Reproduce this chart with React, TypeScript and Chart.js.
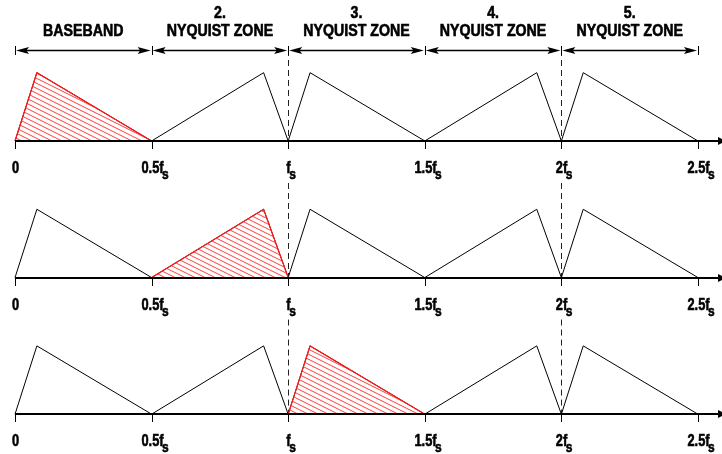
import React, { useEffect, useRef } from 'react';
import { Chart, registerables } from 'chart.js';

Chart.register(...registerables);

// ---- data ----
const zoneEdges = [0, 0.5, 1, 1.5, 2, 2.5];
const peakFreqs = [0.08, 0.91, 1.08, 1.91, 2.08];
const peakAmps = [1, 1, 1, 1, 1];
const highlightedImage = [0, 1, 2];
const tickMain = ['0', '0.5f', 'f', '1.5f', '2f', '2.5f'];
const tickSub = ['', 's', 's', 's', 's', 's'];
const zoneNumbers = ['', '2.', '3.', '4.', '5.'];
const zoneNames = ['BASEBAND', 'NYQUIST ZONE', 'NYQUIST ZONE', 'NYQUIST ZONE', 'NYQUIST ZONE'];
const aliasLines = [1, 2];

// ---- layout ----
const W = 722;
const H = 454;
const X_MIN = -0.055;
const X_MAX = 2.588;
const Y_MAX = 2.064;
const Y_MIN = -4.583;
const ROW_STEP = 2;
const FONT = '"Liberation Sans", Arial, sans-serif';
const RED = '#ff1a1a';
const TICK_SCALE = 0.8;
const HEAD_SCALE = 0.86;

function rowOffset(r: number) {
  return -ROW_STEP * r;
}

function makePattern(): CanvasPattern | string {
  const c = document.createElement('canvas');
  c.width = 10;
  c.height = 5;
  const g = c.getContext('2d');
  if (!g) return 'rgba(255,0,0,0.3)';
  g.strokeStyle = 'rgba(255,40,40,0.9)';
  g.lineWidth = 1;
  for (let k = -2; k <= 2; k++) {
    g.beginPath();
    g.moveTo(-10, k * 5 - 5);
    g.lineTo(20, k * 5 + 10);
    g.stroke();
  }
  const p = g.createPattern(c, 'repeat');
  return p || 'rgba(255,0,0,0.3)';
}

function drawArrowHead(ctx: CanvasRenderingContext2D, x: number, y: number, dir: number, len: number, half: number) {
  ctx.beginPath();
  ctx.moveTo(x, y);
  ctx.lineTo(x + dir * len, y - half);
  ctx.lineTo(x + dir * len * 0.8, y);
  ctx.lineTo(x + dir * len, y + half);
  ctx.closePath();
  ctx.fill();
}

function scaledText(ctx: CanvasRenderingContext2D, text: string, x: number, y: number, sx: number) {
  ctx.save();
  ctx.translate(x, y);
  ctx.scale(sx, 1);
  ctx.lineWidth = 0.6;
  ctx.lineJoin = 'round';
  ctx.strokeText(text, 0, 0);
  ctx.fillText(text, 0, 0);
  ctx.restore();
}

const diagramPlugin = {
  id: 'diagram',
  beforeDatasetsDraw(chart: any) {
    const ctx: CanvasRenderingContext2D = chart.ctx;
    const xs = chart.scales.x;
    const ys = chart.scales.y;
    ctx.save();
    ctx.strokeStyle = '#222';
    ctx.lineWidth = 1;
    ctx.setLineDash([6, 4]);
    highlightedImage.forEach((_, r) => {
      const base = ys.getPixelForValue(rowOffset(r));
      const top = r === 0 ? base - 91 : ys.getPixelForValue(rowOffset(r - 1)) + 42;
      aliasLines.forEach((f) => {
        const px = Math.round(xs.getPixelForValue(f)) + 0.5;
        ctx.beginPath();
        ctx.moveTo(px, top);
        ctx.lineTo(px, base);
        ctx.stroke();
      });
    });
    ctx.restore();
  },
  afterDatasetsDraw(chart: any) {
    const ctx: CanvasRenderingContext2D = chart.ctx;
    const xs = chart.scales.x;
    const ys = chart.scales.y;
    const right = chart.chartArea.right;
    ctx.save();
    ctx.fillStyle = '#000';
    ctx.strokeStyle = '#000';
    ctx.textBaseline = 'alphabetic';
    highlightedImage.forEach((_, r) => {
      const base = Math.round(ys.getPixelForValue(rowOffset(r)));
      const x0 = xs.getPixelForValue(zoneEdges[0]);
      // axis
      ctx.lineWidth = 2;
      ctx.beginPath();
      ctx.moveTo(x0, base);
      ctx.lineTo(right - 4, base);
      ctx.stroke();
      ctx.beginPath();
      ctx.moveTo(right + 4, base);
      ctx.lineTo(right - 4, base - 4);
      ctx.lineTo(right - 4, base + 4);
      ctx.closePath();
      ctx.fill();
      // ticks and labels
      zoneEdges.forEach((e, i) => {
        const px = Math.round(xs.getPixelForValue(e)) + 0.5;
        ctx.lineWidth = 1;
        ctx.beginPath();
        ctx.moveTo(px, base);
        ctx.lineTo(px, base + 8);
        ctx.stroke();
        ctx.font = 'bold 16px ' + FONT;
        ctx.textAlign = 'left';
        const main = tickMain[i];
        const mw = ctx.measureText(main).width * TICK_SCALE;
        scaledText(ctx, main, px - mw / 2, base + 32, TICK_SCALE);
        if (tickSub[i]) {
          ctx.font = 'bold 15px ' + FONT;
          scaledText(ctx, tickSub[i], px + mw / 2 - 1.5, base + 38, TICK_SCALE);
        }
      });
    });
    // header
    const base0 = ys.getPixelForValue(rowOffset(0));
    const ay = Math.round(base0 - 91) + 0.5;
    for (let i = 0; i < zoneEdges.length - 1; i++) {
      const a = xs.getPixelForValue(zoneEdges[i]);
      const b = xs.getPixelForValue(zoneEdges[i + 1]);
      ctx.lineWidth = 1.5;
      ctx.beginPath();
      ctx.moveTo(a + 8, ay);
      ctx.lineTo(b - 8, ay);
      ctx.stroke();
      drawArrowHead(ctx, a + 1, ay, 1, 13, 3.6);
      drawArrowHead(ctx, b - 1, ay, -1, 13, 3.6);
      ctx.font = 'bold 16.5px ' + FONT;
      ctx.textAlign = 'left';
      const cx = (a + b) / 2;
      const nw = ctx.measureText(zoneNames[i]).width * HEAD_SCALE;
      scaledText(ctx, zoneNames[i], cx - nw / 2, base0 - 104.5, HEAD_SCALE);
      if (zoneNumbers[i]) {
        const ww = ctx.measureText(zoneNumbers[i]).width * HEAD_SCALE;
        scaledText(ctx, zoneNumbers[i], cx - ww / 2, base0 - 122.5, HEAD_SCALE);
      }
    }
    ctx.lineWidth = 1;
    zoneEdges.forEach((e) => {
      const px = Math.round(xs.getPixelForValue(e)) + 0.5;
      ctx.beginPath();
      ctx.moveTo(px, ay - 4.5);
      ctx.lineTo(px, ay + 4.5);
      ctx.stroke();
    });
    ctx.restore();
  },
};

export default function App() {
  const ref = useRef<HTMLCanvasElement | null>(null);
  useEffect(() => {
    document.body.style.margin = '0';
    const canvas = ref.current;
    if (!canvas) return;
    const pattern = makePattern();
    const datasets: any[] = [];
    highlightedImage.forEach((hi, r) => {
      const off = rowOffset(r);
      const pts: { x: number; y: number }[] = [];
      peakFreqs.forEach((p, k) => {
        if (k === 0) pts.push({ x: zoneEdges[0], y: off });
        pts.push({ x: p, y: off + peakAmps[k] });
        pts.push({ x: zoneEdges[k + 1], y: off });
      });
      datasets.push({
        data: pts,
        borderColor: '#000',
        borderWidth: 1,
        pointRadius: 0,
        fill: false,
        tension: 0,
        order: 2,
      });
      datasets.push({
        data: [
          { x: zoneEdges[hi], y: off },
          { x: peakFreqs[hi], y: off + peakAmps[hi] },
          { x: zoneEdges[hi + 1], y: off },
        ],
        borderColor: RED,
        borderWidth: 1.2,
        pointRadius: 0,
        backgroundColor: pattern,
        fill: { value: off },
        tension: 0,
        order: 1,
      });
    });
    const chart = new Chart(canvas, {
      type: 'line',
      data: { datasets },
      options: {
        animation: false,
        responsive: false,
        devicePixelRatio: 1,
        layout: { padding: 0 },
        plugins: { legend: { display: false }, tooltip: { enabled: false } },
        scales: {
          x: { type: 'linear', min: X_MIN, max: X_MAX, display: false },
          y: { type: 'linear', min: Y_MIN, max: Y_MAX, display: false },
        },
      },
      plugins: [diagramPlugin],
    } as any);
    return () => chart.destroy();
  }, []);
  return (
    <div style={{ position: 'fixed', left: 0, top: 0, width: W, height: H, background: '#fff' }}>
      <canvas ref={ref} width={W} height={H} />
    </div>
  );
}
